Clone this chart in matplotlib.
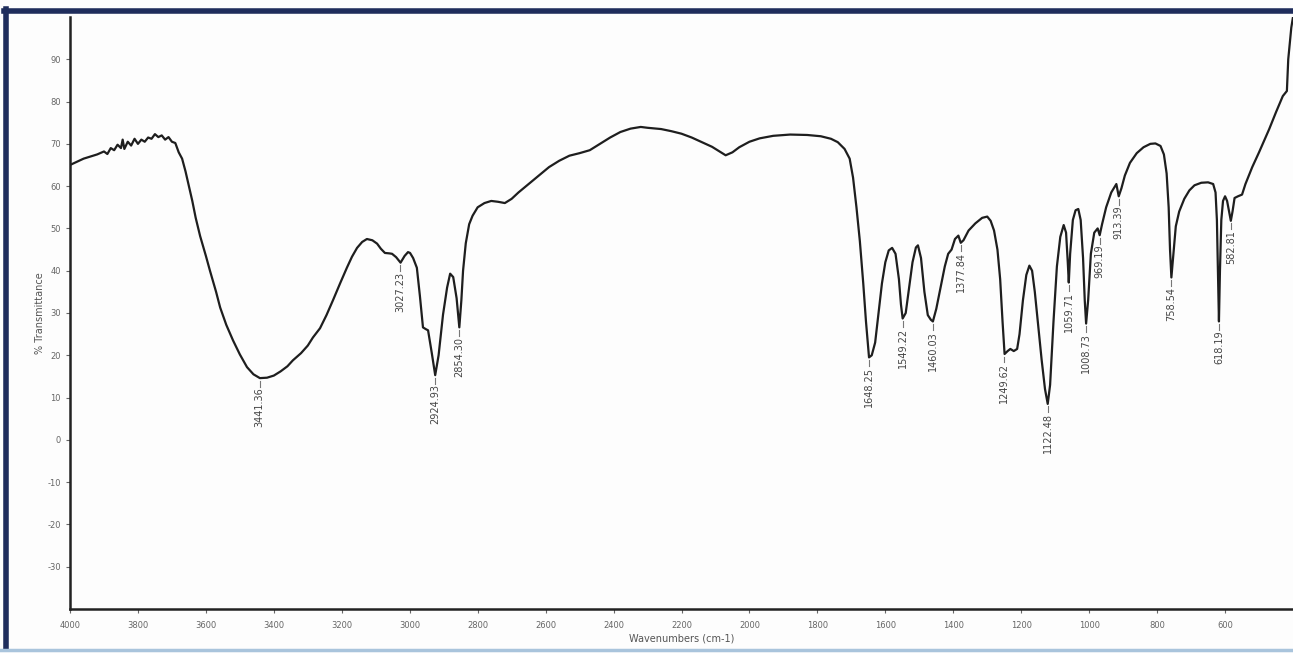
import matplotlib
matplotlib.use('Agg')
import matplotlib.pyplot as plt
from matplotlib.lines import Line2D

plt.rcParams['axes.unicode_minus'] = False

# IR spectrum (wavenumber cm-1, % transmittance)
wavenumbers = [
    4000, 3960, 3920, 3900, 3890, 3880, 3870, 3860, 3850, 3845, 3840, 3830,
    3820, 3810, 3800, 3790, 3780, 3770, 3760, 3750, 3740, 3730, 3720, 3710,
    3700, 3690, 3680, 3670, 3660, 3650, 3640, 3630, 3617, 3600, 3588, 3570,
    3558, 3540, 3520, 3500, 3479, 3460, 3441, 3420, 3400, 3380, 3360, 3344,
    3320, 3300, 3285, 3264, 3245, 3226, 3205, 3185, 3170, 3155, 3140, 3126,
    3110, 3096, 3085, 3073, 3060, 3052, 3040, 3027, 3015, 3005, 2999, 2990,
    2979, 2970, 2961, 2953, 2946, 2935, 2925, 2915, 2902, 2890, 2881, 2872,
    2862, 2854, 2848, 2843, 2835, 2825, 2815, 2800, 2780, 2760, 2740, 2720,
    2700, 2680, 2650, 2620, 2590, 2560, 2530, 2500, 2470, 2440, 2410, 2380,
    2350, 2320, 2300, 2260, 2230, 2200, 2170, 2140, 2110, 2090, 2070, 2050,
    2030, 2000, 1970, 1930, 1880, 1830, 1790, 1760, 1740, 1720, 1705, 1695,
    1685, 1675, 1665, 1657, 1648, 1640, 1630, 1620, 1610, 1600, 1590, 1580,
    1570, 1560, 1554, 1549, 1540, 1530, 1520, 1510, 1504, 1495, 1485, 1475,
    1466, 1460, 1450, 1440, 1425, 1415, 1405, 1395, 1385, 1378, 1370, 1355,
    1335, 1315, 1300, 1290, 1280, 1270, 1262, 1255, 1249, 1240, 1232, 1222,
    1212, 1205, 1195, 1185, 1176, 1168, 1160, 1150, 1140, 1130, 1122, 1115,
    1105, 1095, 1085, 1075, 1068, 1063, 1060, 1056, 1048, 1040, 1032, 1025,
    1018, 1013, 1009, 1003, 995, 985, 975, 969, 962, 950, 935, 920, 913,
    905, 895, 880, 860, 840, 820, 805, 790, 780, 772, 766, 762, 758, 752,
    745, 735, 720, 705, 690, 670, 650, 635, 628, 624, 621, 618, 615, 611,
    606, 600, 594, 588, 583, 578, 572, 562, 550, 540, 520, 500, 470, 450,
    430, 418, 414, 405, 400,
]
transmittance = [
    65.0, 66.5, 67.5, 68.2, 67.6, 69.0, 68.5, 69.8, 69.0, 71.0, 68.8, 70.5,
    69.6, 71.2, 70.0, 71.0, 70.5, 71.5, 71.2, 72.3, 71.6, 72.0, 71.0, 71.6,
    70.5, 70.2, 68.0, 66.5, 63.5, 60.0, 56.5, 52.5, 48.2, 43.5, 40.0, 35.0,
    31.3, 27.2, 23.5, 20.2, 17.2, 15.5, 14.6, 14.7, 15.2, 16.2, 17.4, 18.8,
    20.5, 22.3, 24.2, 26.4, 29.5, 33.0, 37.0, 40.7, 43.3, 45.4, 46.8, 47.5,
    47.2, 46.4, 45.2, 44.2, 44.1, 44.0, 43.2, 41.9, 43.5, 44.4, 44.2, 43.0,
    40.7, 34.0, 26.6, 26.2, 25.9, 20.5, 15.3, 20.0, 29.6, 36.0, 39.3, 38.5,
    33.5, 26.6, 33.0, 40.0, 46.5, 51.0, 53.0, 55.0, 56.0, 56.5, 56.3, 56.0,
    57.0, 58.5, 60.5, 62.5, 64.5, 66.0, 67.2, 67.8, 68.5, 70.0, 71.5, 72.8,
    73.6, 74.0, 73.8, 73.5, 73.0, 72.4, 71.5, 70.4, 69.3, 68.3, 67.3, 68.0,
    69.2, 70.5, 71.3, 71.9, 72.2, 72.1, 71.8, 71.2, 70.4, 68.8, 66.5, 62.0,
    55.0, 47.0, 37.0, 28.0, 19.5, 20.0, 23.0, 30.0, 37.0, 42.0, 44.8, 45.4,
    44.0, 38.0, 32.0, 28.7, 30.0, 36.0, 42.0, 45.5, 46.0, 43.0, 35.0, 29.5,
    28.4, 28.0, 31.0, 35.0, 41.0, 44.0, 45.0, 47.5, 48.3, 46.6, 47.2, 49.5,
    51.2, 52.5, 52.8, 51.8, 49.5, 45.0, 38.0, 28.0, 20.3, 21.0, 21.5, 21.0,
    21.5, 25.0, 33.0, 39.0, 41.2, 40.0, 35.0, 27.0, 19.0, 12.0, 8.5, 13.0,
    28.0, 41.0, 48.0, 50.8, 49.0, 42.0, 37.2, 44.0, 52.0, 54.3, 54.6, 52.0,
    43.0, 33.0, 27.5, 33.0, 44.0, 49.0, 50.0, 48.4, 51.0, 55.0, 58.5, 60.5,
    57.6, 59.5, 62.5, 65.5, 67.8, 69.2, 70.0, 70.1, 69.5, 67.5, 63.0, 55.0,
    45.0, 38.4, 44.0, 50.5, 54.0, 57.0, 59.0, 60.2, 60.8, 60.9, 60.5, 58.5,
    52.0, 40.0, 28.0, 40.0, 52.0, 56.5, 57.6, 56.5, 54.0, 51.8, 54.0, 57.2,
    57.6, 58.0, 60.5, 64.5, 68.0, 73.5, 77.5, 81.3, 82.5, 90.0, 97.5, 100.0,
]

# peak labels (position, value at the dip)
peak_pos = [3441.36, 3027.23, 2924.93, 2854.30, 1648.25, 1549.22, 1460.03,
            1377.84, 1249.62, 1122.48, 1059.71, 1008.73, 969.19, 913.39,
            758.54, 618.19, 582.81]
peak_val = [14.6, 41.9, 15.3, 26.6, 19.5, 28.7, 28.0, 46.6, 20.3, 8.5,
            37.2, 27.5, 48.4, 57.6, 38.4, 28.0, 51.8]

x_ticks = list(range(600, 4001, 200))
y_ticks = list(range(-30, 91, 10))

W, H = 1293, 653
fig = plt.figure(figsize=(W / 100, H / 100), dpi=100)
fig.patch.set_facecolor('#fdfdfd')
ax = fig.add_axes([70 / W, 44 / H, 1223 / W, 592 / H])
ax.set_facecolor('#fdfdfd')

ax.plot(wavenumbers, transmittance, color='#1e1e1e', lw=1.6)

for p, v in zip(peak_pos, peak_val):
    ax.plot([p, p], [v - 0.6, v - 2.0], color='#777777', lw=0.8)
    ax.text(p, v - 2.2, '%.2f' % p, rotation=90, ha='center', va='top',
            fontsize=7, color='#444444')

ax.set_xlim(4000, 400)
ax.set_ylim(-40, 100)
ax.set_xticks(x_ticks)
ax.set_yticks(y_ticks)
ax.tick_params(labelsize=6, colors='#666666', length=3, width=0.8)
ax.tick_params(axis='x', pad=6)

for side in ['top', 'right']:
    ax.spines[side].set_visible(False)
for side in ['left', 'bottom']:
    ax.spines[side].set_linewidth(1.8)
    ax.spines[side].set_color('#222222')

ax.set_xlabel('Wavenumbers (cm-1)', fontsize=7, color='#555555', labelpad=2)
ax.set_ylabel('% Transmittance', fontsize=7, color='#555555', labelpad=2)

# window frame around the screenshot
fig.add_artist(Line2D([4 / W, 1], [1 - 10.5 / H, 1 - 10.5 / H], color='#1f2d5c', lw=4))
fig.add_artist(Line2D([6 / W, 6 / W], [4 / H, 1 - 9 / H], color='#1f2d5c', lw=4))
fig.add_artist(Line2D([0, 1], [3 / H, 3 / H], color='#a9c4dc', lw=2.5))

fig.savefig('out.png', dpi=100)
